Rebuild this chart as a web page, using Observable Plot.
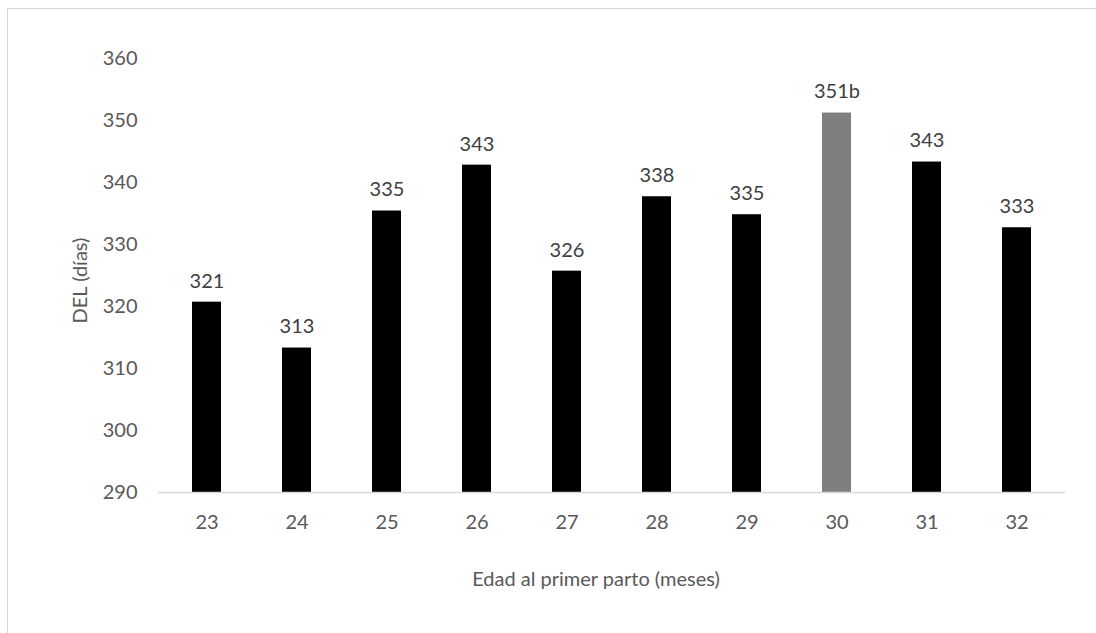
<!DOCTYPE html>
<html>
<head>
<meta charset="utf-8">
<script src="https://cdn.jsdelivr.net/npm/d3@7"></script>
<script src="https://cdn.jsdelivr.net/npm/@observablehq/plot@0.6"></script>
<style>
  html, body { margin: 0; padding: 0; background: #fff; }
  #wrap { position: relative; width: 1096px; height: 633px; overflow: hidden; }
  #frame { position: absolute; left: 7px; top: 8px; width: 1200px; height: 700px;
           border-top: 1.5px solid #d6d6d6; border-left: 1.5px solid #d6d6d6; }
  #chart { position: absolute; left: 0; top: 0; }
  #chart svg { font-family: Lato, "Open Sans", sans-serif; }
</style>
</head>
<body>
<div id="wrap"><div id="frame"></div><div id="chart"></div></div>
<script>
// Data
const ages = ["23", "24", "25", "26", "27", "28", "29", "30", "31", "32"];
const del = [320.7, 313.3, 335.4, 342.8, 325.7, 337.7, 334.8, 351.2, 343.3, 332.7];
const labels = ["321", "313", "335", "343", "326", "338", "335", "351b", "343", "333"];
const highlight = ["30"];
const yTicks = [290, 300, 310, 320, 330, 340, 350, 360];
const xTitle = "Edad al primer parto (meses)";
const yTitle = "DEL (días)";

const rows = ages.map((a, i) => ({age: a, value: del[i], label: labels[i]}));

const chart = Plot.plot({
  width: 1096,
  height: 633,
  marginLeft: 158,
  marginRight: 31,
  marginTop: 58,
  marginBottom: 141,
  style: {fontSize: "20px", color: "#595959", background: "transparent"},
  x: {domain: ages, paddingInner: 0.675, paddingOuter: 0.3375, label: null},
  y: {domain: [290, 360], label: null},
  marks: [
    Plot.barY(rows, {
      x: "age", y1: 290, y2: "value",
      fill: d => highlight.includes(d.age) ? "#7f7f7f" : "#000000"
    }),
    Plot.ruleY([290], {stroke: "#d9d9d9", strokeWidth: 1.5}),
    Plot.text(rows, {
      x: "age", y: "value", text: "label", dy: -21,
      fill: "#404040", fontSize: 20, lineAnchor: "middle"
    }),
    Plot.axisY({ticks: yTicks, tickSize: 0, tickPadding: 21, label: null, fill: "#595959", fontSize: 20}),
    Plot.axisX({tickSize: 0, tickPadding: 22, label: null, fill: "#595959", fontSize: 20}),
    Plot.text([yTitle], {
      frameAnchor: "left", text: d => d, rotate: -90, dx: -78, dy: 5,
      textAnchor: "middle", lineAnchor: "middle",
      fill: "#595959", fontSize: 20
    }),
    Plot.text([xTitle], {
      frameAnchor: "bottom", text: d => d, dy: 93, dx: -16,
      fill: "#595959", fontSize: 20
    })
  ]
});
document.getElementById("chart").appendChild(chart);
</script>
</body>
</html>
